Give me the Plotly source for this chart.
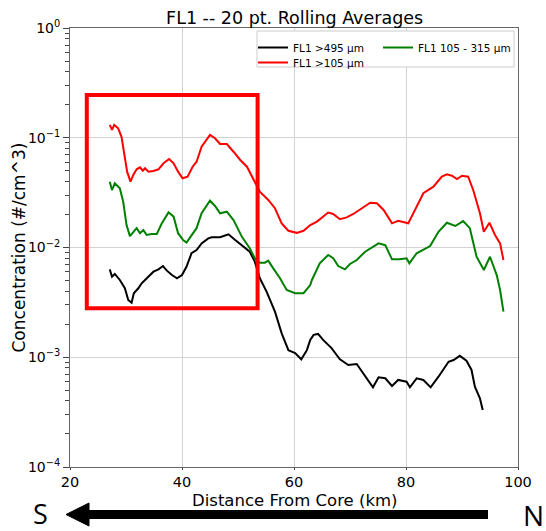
import plotly.graph_objects as go

# ---- data (distance km, concentration #/cm^3) ----
black_x = [27.1, 27.5, 28.0, 28.9, 29.8, 30.4, 31.0, 31.4, 32.2, 32.8, 33.4, 34.0, 34.9, 35.8, 36.6,
           37.3, 38.2, 39.1, 40.0, 40.8, 41.7, 42.6, 43.5, 44.7, 45.3, 46.8, 48.3, 49.5, 51.0, 52.1,
           53.0, 53.9, 55.1, 56.6, 57.8, 59.0, 60.2, 61.3, 62.3, 62.9, 63.5, 64.3, 65.2, 66.7, 68.2,
           69.7, 71.2, 72.7, 74.1, 75.1, 76.3, 77.5, 78.6, 80.1, 80.7, 81.9, 83.1, 84.4, 85.8, 87.6,
           88.5, 89.6, 90.8, 91.7, 92.3, 93.2, 93.7]
black_c = [0.00632, 0.00542, 0.00574, 0.00506, 0.00425, 0.00333, 0.00314, 0.00383, 0.00425, 0.00472,
           0.00506, 0.00542, 0.00602, 0.00632, 0.00678, 0.00615, 0.00561, 0.00524, 0.00561, 0.00668,
           0.00886, 0.00948, 0.0109, 0.0121, 0.0124, 0.0124, 0.0132, 0.0117, 0.0102, 0.00916,
           0.00743, 0.00524, 0.00396, 0.00260, 0.00165, 0.00116, 0.00109, 0.000958, 0.00116, 0.00144,
           0.00160, 0.00163, 0.00144, 0.00121, 0.000958, 0.000850, 0.000868, 0.000665, 0.000532, 0.000656,
           0.000643, 0.000547, 0.000621, 0.000598, 0.000532, 0.000643, 0.000621, 0.000532, 0.000665, 0.000910,
           0.000944, 0.00103, 0.000931, 0.000766, 0.000539, 0.000423, 0.000331]

green_x = [27.1, 27.5, 28.0, 28.9, 29.5, 30.1, 30.7, 31.3, 31.9, 32.5, 33.1, 33.7, 34.6, 35.5, 36.4,
           37.6, 38.5, 39.3, 40.2, 40.8, 41.7, 42.6, 43.5, 45.0, 45.9, 46.8, 48.0, 49.2, 50.7, 52.1,
           53.0, 53.9, 54.8, 55.4, 56.3, 57.5, 58.7, 60.2, 61.7, 62.9, 63.2, 64.6, 66.1, 67.0, 67.9,
           69.1, 70.0, 71.2, 72.7, 73.9, 75.1, 76.3, 77.5, 78.9, 80.1, 80.6, 81.9, 84.3, 85.8, 87.3,
           88.8, 90.2, 91.4, 92.6, 93.9, 95.0, 96.2, 96.8, 97.4]
green_c = [0.0398, 0.0334, 0.0385, 0.0346, 0.0261, 0.0160, 0.0127, 0.0139, 0.0150, 0.0135,
           0.0144, 0.0130, 0.0133, 0.0133, 0.0166, 0.0209, 0.0191, 0.0135, 0.0117, 0.0111,
           0.0130, 0.0150, 0.0205, 0.0267, 0.0239, 0.0205, 0.0212, 0.0178, 0.0125, 0.00984,
           0.00798, 0.00727, 0.00727, 0.00759, 0.00646, 0.00524, 0.00410, 0.00383, 0.00383, 0.00455,
           0.00506, 0.00718, 0.00855, 0.00798, 0.00678, 0.00632, 0.00708, 0.00769, 0.00916, 0.0100,
           0.0109, 0.0105, 0.00780, 0.00780, 0.00798, 0.00718, 0.00886, 0.0103, 0.0139, 0.0168,
           0.0157, 0.0174, 0.0150, 0.00824, 0.00624, 0.00824, 0.00561, 0.00410, 0.00260]

red_x = [27.1, 27.5, 27.9, 28.6, 29.2, 29.8, 30.2, 30.8, 31.3, 31.9, 32.5, 33.0, 33.4, 34.0, 34.9,
         35.8, 36.7, 37.7, 38.5, 39.3, 40.1, 41.0, 41.9, 42.6, 43.5, 45.0, 45.9, 46.8, 48.0, 49.2,
         50.4, 51.6, 52.7, 53.9, 55.4, 56.6, 57.8, 59.0, 60.5, 61.7, 62.9, 64.1, 66.1, 67.0, 68.2,
         69.4, 70.6, 72.1, 73.6, 74.8, 76.0, 77.5, 78.6, 80.4, 81.6, 83.1, 84.9, 86.4, 87.3, 88.2,
         89.1, 90.0, 91.1, 92.0, 93.2, 93.9, 94.9, 95.9, 96.8, 97.4]
red_c = [0.131, 0.118, 0.131, 0.122, 0.102, 0.0627, 0.0491, 0.0398, 0.0458, 0.0516,
         0.0538, 0.0501, 0.0527, 0.0491, 0.0498, 0.0516, 0.0585, 0.0640, 0.0585, 0.0491,
         0.0427, 0.0442, 0.0545, 0.0605, 0.0828, 0.106, 0.0989, 0.0877, 0.0877, 0.0746,
         0.0627, 0.0545, 0.0427, 0.0322, 0.0271, 0.0228, 0.0166, 0.0142, 0.0136, 0.0142,
         0.0160, 0.0172, 0.0208, 0.0202, 0.0181, 0.0188, 0.0202, 0.0228, 0.0256, 0.0253,
         0.0220, 0.0166, 0.0175, 0.0166, 0.0220, 0.0312, 0.0358, 0.0442, 0.0465, 0.0451,
         0.0421, 0.0451, 0.0442, 0.0334, 0.0205, 0.0139, 0.0168, 0.0130, 0.0109, 0.00769]

series_names = ["FL1 >495 µm", "FL1 105 - 315 µm", "FL1 >105 µm"]
y_tick_vals = [1e-4, 1e-3, 1e-2, 1e-1, 1]
y_tick_text = ["10<sup>−4</sup>", "10<sup>−3</sup>", "10<sup>−2</sup>", "10<sup>−1</sup>", "10<sup>0</sup>"]
x_tick_vals = [20, 40, 60, 80, 100]
box_x = [23.0, 53.5]
box_y = [0.0028, 0.245]

FONT = "DejaVu Sans"

# plot area in pixels: x 70..518, y 28..467
def px2paper_x(px):
    return (px - 70) / 448.0

def py2paper_y(py):
    return (467 - py) / 439.0

fig = go.Figure()
fig.add_trace(go.Scatter(x=black_x, y=black_c, mode="lines", name=series_names[0],
                         line=dict(color="black", width=2), legend="legend"))
fig.add_trace(go.Scatter(x=green_x, y=green_c, mode="lines", name=series_names[1],
                         line=dict(color="#008000", width=2), legend="legend2"))
fig.add_trace(go.Scatter(x=red_x, y=red_c, mode="lines", name=series_names[2],
                         line=dict(color="#ff0000", width=2), legend="legend3"))

minor_vals = [m * 10 ** k for k in range(-4, 0) for m in range(2, 10)]

leg_common = dict(xanchor="left", yanchor="top", bgcolor="rgba(0,0,0,0)", borderwidth=0,
                  font=dict(size=10.5, family=FONT))

fig.update_layout(
    width=546, height=531,
    margin=dict(l=70, r=28, t=28, b=64, autoexpand=False),
    paper_bgcolor="white", plot_bgcolor="white",
    font=dict(family=FONT, color="black"),
    title=dict(text="FL1 -- 20 pt. Rolling Averages", x=0.5396, xanchor="center",
               y=0.967, yanchor="middle", font=dict(size=17.5, family=FONT)),
    showlegend=True,
    legend=dict(x=px2paper_x(253), y=py2paper_y(33), **leg_common),
    legend2=dict(x=px2paper_x(378), y=py2paper_y(33), **leg_common),
    legend3=dict(x=px2paper_x(253), y=py2paper_y(48), **leg_common),
    xaxis=dict(range=[20, 100], tickmode="array", tickvals=x_tick_vals, automargin=False,
               showgrid=True, gridcolor="#d3d3d3", gridwidth=1,
               showline=True, linecolor="#666666", linewidth=1, mirror=True,
               ticks="outside", ticklen=2, tickcolor="#444",
               tickfont=dict(size=14.5, family=FONT), zeroline=False),
    yaxis=dict(type="log", range=[-4, 0], tickmode="array", tickvals=y_tick_vals,
               ticktext=y_tick_text, automargin=False,
               showgrid=True, gridcolor="#d3d3d3", gridwidth=1,
               showline=True, linecolor="#666666", linewidth=1, mirror=True,
               ticks="outside", ticklen=6, tickcolor="#444",
               minor=dict(tickmode="array", tickvals=minor_vals, ticks="outside", ticklen=4,
                          tickcolor="#444", showgrid=False),
               tickfont=dict(size=14, family=FONT), zeroline=False),
)

# axis titles
fig.add_annotation(text="Distance From Core (km)", xref="paper", yref="paper",
                   x=0.5, y=py2paper_y(500), xanchor="center", yanchor="middle", borderpad=0,
                   showarrow=False, font=dict(size=16.5, family=FONT, color="black"))
fig.add_annotation(text="Concentration (#/cm^3)", xref="paper", yref="paper",
                   x=px2paper_x(18), y=0.5, xanchor="center", yanchor="middle", textangle=-90,
                   showarrow=False, font=dict(size=17, family=FONT, color="black"))

# legend frame
fig.add_shape(type="rect", xref="paper", yref="paper",
              x0=px2paper_x(257), x1=px2paper_x(514), y0=py2paper_y(67), y1=py2paper_y(31),
              fillcolor="white", line=dict(color="#cccccc", width=1), layer="above")

# red highlight box
fig.add_shape(type="rect", xref="x", yref="y", x0=box_x[0], x1=box_x[1], y0=box_y[0], y1=box_y[1],
              line=dict(color="#ff0000", width=4), fillcolor="rgba(0,0,0,0)", layer="above")

# bottom S <- N arrow (paper coordinates)
fig.add_shape(type="line", xref="paper", yref="paper",
              x0=px2paper_x(84), x1=px2paper_x(488), y0=py2paper_y(514.5), y1=py2paper_y(514.5),
              line=dict(color="black", width=9))
tip = (px2paper_x(66), py2paper_y(514.5))
b1 = (px2paper_x(89), py2paper_y(503))
b2 = (px2paper_x(89), py2paper_y(526))
fig.add_shape(type="path", xref="paper", yref="paper",
              path=f"M {tip[0]} {tip[1]} L {b1[0]} {b1[1]} L {b2[0]} {b2[1]} Z",
              fillcolor="black", line=dict(color="black", width=1))

fig.add_annotation(text="S", xref="paper", yref="paper", x=px2paper_x(40), y=py2paper_y(513),
                   xanchor="center", yanchor="middle", showarrow=False,
                   font=dict(size=27, family="Open Sans", color="black"))
fig.add_annotation(text="N", xref="paper", yref="paper", x=px2paper_x(521), y=py2paper_y(515),
                   xanchor="left", yanchor="middle", showarrow=False,
                   font=dict(size=28, family="Open Sans", color="black"))

fig.write_html("out.html", post_script="document.body.style.margin='0';",
               config={"displayModeBar": False})
